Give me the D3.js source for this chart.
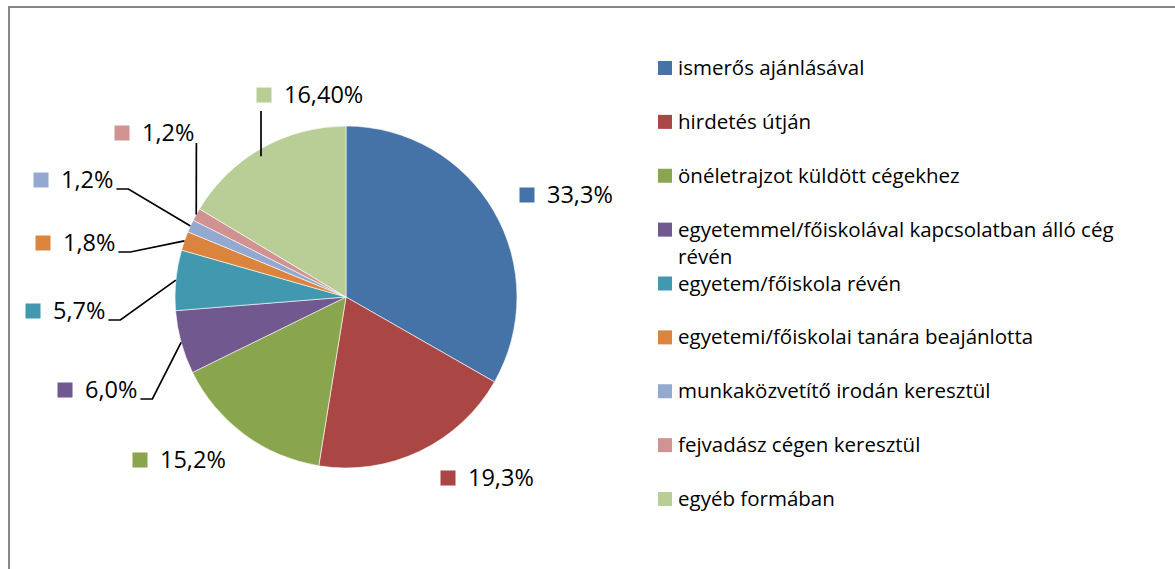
<!DOCTYPE html>
<html>
<head>
<meta charset="utf-8">
<script src="https://cdn.jsdelivr.net/npm/d3@7"></script>
<style>
  body { margin: 0; background: #fff; }
  text { font-family: "Open Sans", sans-serif; fill: #000; }
</style>
</head>
<body>
<div id="chart"></div>
<script>
// data
const categories = [
  "ismerős ajánlásával",
  "hirdetés útján",
  "önéletrajzot küldött cégekhez",
  "egyetemmel/főiskolával kapcsolatban álló cég révén",
  "egyetem/főiskola révén",
  "egyetemi/főiskolai tanára beajánlotta",
  "munkaközvetítő irodán keresztül",
  "fejvadász cégen keresztül",
  "egyéb formában"
]
const values = [33.3, 19.3, 15.2, 6.0, 5.7, 1.8, 1.2, 1.2, 16.4]
const valueLabels = ["33,3%", "19,3%", "15,2%", "6,0%", "5,7%", "1,8%", "1,2%", "1,2%", "16,40%"]
const legendLines = [
  ["ismerős ajánlásával"],
  ["hirdetés útján"],
  ["önéletrajzot küldött cégekhez"],
  ["egyetemmel/főiskolával kapcsolatban álló cég", "révén"],
  ["egyetem/főiskola révén"],
  ["egyetemi/főiskolai tanára beajánlotta"],
  ["munkaközvetítő irodán keresztül"],
  ["fejvadász cégen keresztül"],
  ["egyéb formában"]
]
const colors = ["#4572A7", "#AA4643", "#89A54E", "#71588F", "#4198AF", "#DB843D", "#93A9CF", "#D19392", "#B9CD96"]

// label layout (square marker position relative to pie centre) and leader style
const labelPos = [[181, -102], [102, 181], [-206, 163], [-281, 93], [-313, 14], [-303, -54], [-305, -117], [-224, -164], [-82, -202]]
const leaderType = [null, null, null, "elbow", "elbow", "elbow", "elbow", "straight", "vertical"]

let dimensions = {
  width: 1175,
  height: 569,
  cx: 346,
  cy: 297,
  radius: 171,
}

const svg = d3.select("#chart").append("svg")
  .attr("width", dimensions.width)
  .attr("height", dimensions.height)

// chart area border (only top and left visible)
svg.append("path")
  .attr("d", `M9,${dimensions.height + 5} V7 H${dimensions.width + 5}`)
  .attr("fill", "none")
  .attr("stroke", "#878787")
  .attr("stroke-width", 2)

const pie = d3.pie().sort(null).value(d => d)
const arcs = pie(values)

const arc = d3.arc().innerRadius(0).outerRadius(dimensions.radius)

const bounds = svg.append("g")
  .attr("transform", `translate(${dimensions.cx},${dimensions.cy})`)

bounds.selectAll("path.slice")
  .data(arcs)
  .enter()
  .append("path")
  .attr("class", "slice")
  .attr("d", arc)
  .attr("fill", (d, i) => colors[i])
  .attr("stroke", "#fff")
  .attr("stroke-width", 0.6)

// data labels
const labels = bounds.selectAll("g.label")
  .data(arcs)
  .enter()
  .append("g")
  .attr("class", "label")
  .attr("transform", (d, i) => `translate(${labelPos[i][0]},${labelPos[i][1]})`)

labels.append("rect")
  .attr("x", -7.5)
  .attr("y", -7.5)
  .attr("width", 15)
  .attr("height", 15)
  .attr("fill", (d, i) => colors[i])

labels.append("text")
  .attr("x", 20)
  .attr("y", 8)
  .style("font-size", "23.5px")
  .text((d, i) => valueLabels[i])

// leader lines
labels.each(function(d, i) {
  const type = leaderType[i]
  if (!type) return
  const textW = d3.select(this).select("text").node().getComputedTextLength()
  const a = (d.startAngle + d.endAngle) / 2
  const ex = Math.sin(a) * dimensions.radius - labelPos[i][0]
  const ey = -Math.cos(a) * dimensions.radius - labelPos[i][1]
  let pts
  if (type == "elbow") {
    const sx = 20 + textW + 3
    pts = [[sx, 9], [sx + 12, 9], [ex, ey]]
  } else if (type == "straight") {
    pts = [[20 + textW + 2, 10], [ex, ey]]
  } else {
    pts = [[-3, 16], [-3, ey + 8]]
  }
  d3.select(this).append("path")
    .attr("d", d3.line()(pts))
    .attr("fill", "none")
    .attr("stroke", "#000")
    .attr("stroke-width", 1.7)
})

// legend
let y = d3.scalePoint()
  .domain(categories)
  .range([68, 499])

const legend = svg.selectAll("g.legend")
  .data(categories)
  .enter()
  .append("g")
  .attr("class", "legend")
  .attr("transform", d => `translate(658,${y(d)})`)

legend.append("rect")
  .attr("x", 0)
  .attr("y", -7)
  .attr("width", 14)
  .attr("height", 14)
  .attr("fill", (d, i) => colors[i])

legend.append("text")
  .attr("x", 20)
  .attr("y", 7)
  .style("font-size", "20.5px")
  .selectAll("tspan")
  .data((d, i) => legendLines[i])
  .enter()
  .append("tspan")
  .attr("x", 20)
  .attr("dy", (d, j) => j == 0 ? 0 : 27)
  .text(d => d)
</script>
</body>
</html>
